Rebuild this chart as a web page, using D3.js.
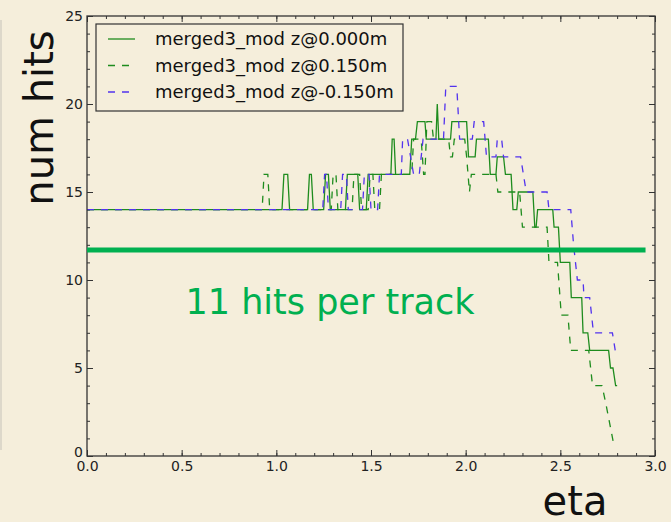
<!DOCTYPE html>
<html>
<head>
<meta charset="utf-8">
<script src="https://cdn.jsdelivr.net/npm/d3@7"></script>
<style>
  body { margin: 0; background: #f5eedb; }
  svg { display: block; font-family: "DejaVu Sans", sans-serif; }
</style>
</head>
<body>
<svg width="671" height="522"></svg>
<script>
// series: eta vs number of hits, three z positions
const seriesNames = ["merged3_mod z@0.000m", "merged3_mod z@0.150m", "merged3_mod z@-0.150m"];

const etaZ0 = [0.00, 1.03, 1.04, 1.06, 1.07, 1.165, 1.175, 1.185, 1.195, 1.25, 1.26, 1.275, 1.285,
    1.365, 1.375, 1.43, 1.44, 1.475, 1.485, 1.605, 1.612, 1.622, 1.63, 1.705, 1.715, 1.735, 1.745,
    1.785, 1.792, 1.843, 1.85, 1.858, 1.92, 1.927, 2.005, 2.015, 2.05, 2.057, 2.12, 2.13, 2.16,
    2.167, 2.20, 2.21, 2.24, 2.25, 2.27, 2.278, 2.355, 2.365, 2.372, 2.38, 2.46, 2.467, 2.49,
    2.50, 2.55, 2.558, 2.613, 2.62, 2.645, 2.655, 2.755, 2.765, 2.778, 2.792, 2.80];
const hitsZ0 = [14, 14, 16, 16, 14, 14, 16, 16, 14, 14, 16, 16, 14,
    14, 16, 16, 14, 14, 16, 16, 18, 18, 16, 16, 18, 18, 19,
    19, 18, 18, 20, 18, 18, 19, 19, 17, 17, 18, 18, 16, 16,
    17, 17, 16, 16, 14, 14, 15, 15, 13, 13, 14, 14, 13, 13,
    11, 11, 9, 9, 7, 7, 6, 6, 5, 5, 4, 4];

const etaZp = [0.00, 0.925, 0.935, 0.955, 0.965, 1.29, 1.30, 1.315, 1.325, 1.40, 1.41, 1.44, 1.45,
    1.485, 1.495, 1.51, 1.52, 1.545, 1.555, 1.715, 1.725, 1.765, 1.778, 1.785, 1.795, 1.82, 1.83,
    1.91, 1.92, 1.93, 1.94, 1.995, 2.005, 2.02, 2.03, 2.16, 2.17, 2.285, 2.30, 2.43, 2.44,
    2.485, 2.505, 2.54, 2.555, 2.65, 2.67, 2.72, 2.74, 2.785];
const hitsZp = [14, 14, 16, 16, 14, 14, 16, 16, 14, 14, 16, 16, 14,
    14, 16, 16, 14, 14, 16, 16, 18, 18, 16, 16, 19, 19, 18,
    18, 17, 17, 18, 18, 17, 15, 16, 16, 15, 15, 13, 13, 11,
    11, 8, 8, 6, 6, 4, 4, 3, 0.5];

const etaZm = [0.00, 1.245, 1.255, 1.265, 1.275, 1.34, 1.35, 1.37, 1.38, 1.455, 1.465, 1.49, 1.50,
    1.535, 1.545, 1.66, 1.667, 1.693, 1.725, 1.755, 1.775, 1.883, 1.895, 1.953, 1.968, 2.035, 2.045,
    2.095, 2.11, 2.16, 2.167, 2.19, 2.20, 2.29, 2.32, 2.43, 2.44, 2.555, 2.57, 2.59, 2.62,
    2.625, 2.655, 2.675, 2.775, 2.79];
const hitsZm = [14, 14, 16, 16, 14, 14, 16, 16, 14, 14, 16, 16, 14,
    14, 16, 16, 18, 18, 16, 16, 18, 18, 21, 21, 18, 18, 19,
    19, 17, 17, 18, 18, 17, 17, 15, 15, 14, 14, 12, 10, 10,
    9, 9, 7, 7, 6];

// reference line added on the slide
const targetHits = 11.7;
const targetEtaEnd = 2.95;
const targetLabel = "11 hits per track";

const xMajor = [0, 0.5, 1.0, 1.5, 2.0, 2.5, 3.0];
const yMajor = [0, 5, 10, 15, 20, 25];

const svg = d3.select("svg"),
    width = +svg.attr("width"),
    height = +svg.attr("height");

const bg = "#f5eedb";
const axisColor = "#333";
const slideGreen = "#00b050";
const colors = ["#1e8c1e", "#1e8c1e", "#5233ee"];
const dashes = [null, "7,7", "7,7"];

svg.append("rect").attr("width", width).attr("height", height).attr("fill", bg);
// faint slide edge on the left
svg.append("line").attr("x1", 1).attr("x2", 1).attr("y1", 20).attr("y2", 450)
    .attr("stroke", "#ddd8ca").attr("stroke-width", 2);

const x = d3.scaleLinear().domain([0, 3]).range([87, 655]);
const y = d3.scaleLinear().domain([0, 25]).range([456, 16]);

// ticks pointing inward on all four sides
function styleAxis(g) {
    g.select(".domain").remove();
    g.selectAll(".tick line").attr("stroke", axisColor).attr("stroke-width", 1);
    g.selectAll(".tick text").attr("fill", "#222").style("font-size", "14px")
        .style("font-family", "DejaVu Sans");
}

const xMinor = d3.range(0, 31).map(i => i / 10);
const yMinor = d3.range(0, 26);

svg.append("g").attr("transform", `translate(0,${y(0)})`)
    .call(d3.axisBottom(x).tickValues(xMinor).tickSize(-3).tickFormat(""))
    .call(styleAxis);
svg.append("g").attr("transform", `translate(0,${y(0)})`)
    .call(d3.axisBottom(x).tickValues(xMajor).tickSize(-6).tickPadding(5).tickFormat(d3.format(".1f")))
    .call(styleAxis);
svg.append("g").attr("transform", `translate(0,${y(25)})`)
    .call(d3.axisTop(x).tickValues(xMinor).tickSize(-3).tickFormat(""))
    .call(styleAxis);
svg.append("g").attr("transform", `translate(0,${y(25)})`)
    .call(d3.axisTop(x).tickValues(xMajor).tickSize(-6).tickFormat(""))
    .call(styleAxis);

svg.append("g").attr("transform", `translate(${x(0)},0)`)
    .call(d3.axisLeft(y).tickValues(yMinor).tickSize(-3).tickFormat(""))
    .call(styleAxis);
const yAxis = svg.append("g").attr("transform", `translate(${x(0)},0)`)
    .call(d3.axisLeft(y).tickValues(yMajor).tickSize(-6).tickPadding(4).tickFormat(d3.format("d")))
    .call(styleAxis);
// the zero label sits a little higher, as in the original
yAxis.selectAll(".tick text").filter(d => d === 0).attr("dy", "0.05em");
svg.append("g").attr("transform", `translate(${x(3)},0)`)
    .call(d3.axisRight(y).tickValues(yMinor).tickSize(-3).tickFormat(""))
    .call(styleAxis);
svg.append("g").attr("transform", `translate(${x(3)},0)`)
    .call(d3.axisRight(y).tickValues(yMajor).tickSize(-6).tickFormat(""))
    .call(styleAxis);

// data lines
const line = d3.line().x(d => x(d[0])).y(d => y(d[1]));
const series = [d3.zip(etaZ0, hitsZ0), d3.zip(etaZp, hitsZp), d3.zip(etaZm, hitsZm)];

svg.append("g")
    .selectAll("path")
    .data(series)
    .join("path")
    .attr("d", line)
    .attr("fill", "none")
    .attr("stroke", (d, i) => colors[i])
    .attr("stroke-width", 1.3)
    .attr("stroke-dasharray", (d, i) => dashes[i]);

// plot frame
svg.append("rect")
    .attr("x", x(0)).attr("y", y(25))
    .attr("width", x(3) - x(0)).attr("height", y(0) - y(25))
    .attr("fill", "none").attr("stroke", axisColor).attr("stroke-width", 1.3);

// legend
const legend = svg.append("g");
legend.append("rect")
    .attr("x", 96).attr("y", 24).attr("width", 307).attr("height", 87)
    .attr("fill", bg).attr("stroke", axisColor).attr("stroke-width", 1.2);
const rows = legend.selectAll("g.row")
    .data(seriesNames)
    .join("g")
    .attr("class", "row")
    .attr("transform", (d, i) => `translate(0,${39 + i * 26.5})`);
rows.append("line")
    .attr("x1", 108).attr("x2", 135)
    .attr("stroke", (d, i) => colors[i])
    .attr("stroke-width", 1.3)
    .attr("stroke-dasharray", (d, i) => dashes[i]);
rows.append("text")
    .attr("x", 155).attr("dy", "0.35em")
    .style("font-size", "18px")
    .attr("fill", "#111")
    .text(d => d);

// the 11 hits line and label
svg.append("line")
    .attr("x1", x(0)).attr("x2", x(targetEtaEnd))
    .attr("y1", y(targetHits)).attr("y2", y(targetHits))
    .attr("stroke", slideGreen).attr("stroke-width", 5);
svg.append("text")
    .attr("x", 330).attr("y", 314)
    .attr("text-anchor", "middle")
    .style("font-size", "35px")
    .attr("fill", slideGreen)
    .text(targetLabel);

// axis titles
svg.append("text")
    .attr("transform", "translate(53,118) rotate(-90)")
    .attr("text-anchor", "middle")
    .style("font-size", "40px")
    .attr("fill", "#111")
    .text("num hits");
svg.append("text")
    .attr("x", 575).attr("y", 515)
    .attr("text-anchor", "middle")
    .style("font-size", "40px")
    .attr("fill", "#111")
    .text("eta");
</script>
</body>
</html>
